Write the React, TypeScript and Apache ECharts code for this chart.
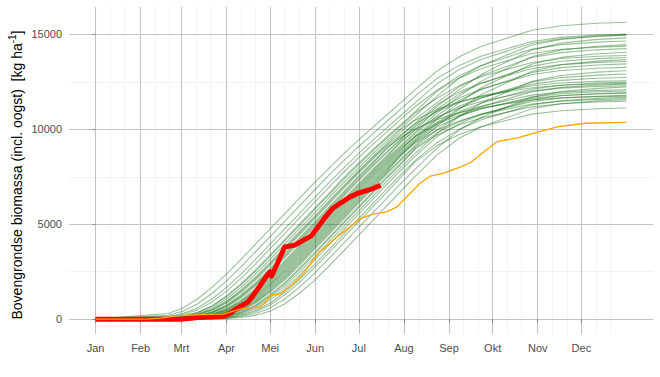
import React, { useEffect, useRef } from 'react';
import * as echarts from 'echarts';

// Day of year (0 = 1 Jan) at which the ensemble runs are sampled
const days = [0, 50, 60, 70, 80, 90, 100, 110, 120, 130, 140, 150, 160, 170, 180, 190, 200, 210, 220, 235, 250, 265, 280, 300, 320, 345, 365];

// Ensemble runs (green), above-ground biomass kg/ha
const greenRuns: number[][] = [
  [0, 300, 590, 1060, 1670, 2370, 3150, 3950, 4750, 5550, 6350, 7150, 7920, 8670, 9380, 10060, 10740, 11420, 12100, 13087, 13826, 14357, 14732, 15217, 15454, 15586, 15640],
  [0, 200, 420, 800, 1350, 2000, 2750, 3550, 4350, 5150, 5950, 6750, 7550, 8300, 9030, 9720, 10400, 11080, 11760, 12693, 13367, 13846, 14187, 14629, 14843, 14962, 15012],
  [0, 55, 140, 300, 590, 1060, 1670, 2370, 3150, 3950, 4750, 5550, 6350, 7150, 7920, 8670, 9380, 10060, 10740, 11760, 12687, 13354, 13828, 14441, 14739, 14906, 14974],
  [0, 140, 300, 590, 1060, 1670, 2370, 3150, 3950, 4750, 5550, 6350, 7150, 7920, 8670, 9380, 10060, 10740, 11420, 12407, 13146, 13677, 14052, 14537, 14774, 14906, 14960],
  [0, 18, 69, 164, 348, 674, 1176, 1802, 2522, 3310, 4110, 4910, 5710, 6510, 7310, 8072, 8814, 9516, 10196, 11216, 12090, 12883, 13451, 14182, 14539, 14738, 14819],
  [0, 110, 240, 488, 904, 1478, 2148, 2910, 3710, 4510, 5310, 6110, 6910, 7698, 8448, 9170, 9856, 10536, 11216, 12070, 12819, 13353, 13733, 14224, 14462, 14595, 14650],
  [0, 4, 40, 110, 240, 488, 904, 1478, 2148, 2910, 3710, 4510, 5310, 6110, 6910, 7698, 8448, 9170, 9856, 10876, 11747, 12538, 13101, 13828, 14181, 14378, 14460],
  [0, 70, 160, 352, 696, 1222, 1852, 2590, 3390, 4190, 4990, 5790, 6590, 7402, 8152, 8890, 9584, 10264, 10944, 12024, 12708, 13195, 13543, 13992, 14210, 14331, 14381],
  [0, 40, 110, 240, 488, 904, 1478, 2148, 2910, 3710, 4510, 5310, 6110, 6910, 7698, 8448, 9170, 9856, 10536, 11416, 12239, 12824, 13240, 13779, 14041, 14187, 14248],
  [0, 0, 18, 69, 164, 348, 674, 1176, 1802, 2522, 3310, 4110, 4910, 5710, 6510, 7310, 8072, 8814, 9516, 10536, 11403, 12177, 12729, 13440, 13787, 13981, 14060],
  [0, 69, 164, 348, 674, 1176, 1802, 2522, 3310, 4110, 4910, 5710, 6510, 7310, 8072, 8814, 9516, 10196, 10876, 11650, 12302, 12765, 13095, 13521, 13729, 13845, 13892],
  [0, 6, 48, 128, 276, 548, 1002, 1604, 2294, 3070, 3870, 4670, 5470, 6270, 7070, 7844, 8598, 9312, 9992, 11067, 11855, 12415, 12815, 13329, 13582, 13721, 13779],
  [0, 0, 4, 40, 110, 240, 488, 904, 1478, 2148, 2910, 3710, 4510, 5310, 6110, 6910, 7698, 8448, 9170, 10196, 11057, 11819, 12361, 13062, 13402, 13593, 13671],
  [0, 25, 80, 180, 386, 748, 1286, 1926, 2670, 3470, 4270, 5070, 5870, 6670, 7476, 8226, 8960, 9652, 10332, 11315, 11971, 12438, 12767, 13199, 13407, 13524, 13572],
  [0, 2, 35, 100, 220, 454, 852, 1414, 2074, 2830, 3630, 4430, 5230, 6030, 6830, 7624, 8374, 9100, 9788, 10727, 11518, 12081, 12481, 12997, 13251, 13391, 13448],
  [0, 14, 62, 152, 324, 632, 1118, 1736, 2446, 3230, 4030, 4830, 5630, 6430, 7230, 7996, 8742, 9448, 10128, 10982, 11645, 12116, 12449, 12885, 13096, 13213, 13262],
  [0, 0, 0, 14, 62, 152, 324, 632, 1118, 1736, 2446, 3230, 4030, 4830, 5630, 6430, 7230, 7996, 8742, 9788, 10678, 11379, 11878, 12523, 12836, 13011, 13083],
  [0, 0, 14, 62, 152, 324, 632, 1118, 1736, 2446, 3230, 4030, 4830, 5630, 6430, 7230, 7996, 8742, 9448, 10366, 11103, 11631, 12005, 12489, 12725, 12856, 12910],
  [0, 0, 25, 80, 180, 386, 748, 1286, 1926, 2670, 3470, 4270, 5070, 5870, 6670, 7476, 8226, 8960, 9652, 10593, 11215, 11657, 11972, 12379, 12577, 12688, 12733],
  [0, 35, 100, 220, 454, 852, 1414, 2074, 2830, 3630, 4430, 5230, 6030, 6830, 7624, 8374, 9100, 9716, 10295, 10951, 11418, 11747, 11986, 12292, 12440, 12523, 12557],
  [0, 0, 10, 55, 140, 300, 590, 1060, 1670, 2370, 3150, 3950, 4750, 5550, 6350, 7150, 7920, 8670, 9380, 10278, 10918, 11374, 11699, 12118, 12322, 12436, 12483],
  [0, 41, 116, 252, 506, 944, 1538, 2218, 2990, 3790, 4590, 5390, 6190, 6990, 7768, 8526, 9244, 9998, 10491, 11050, 11448, 11730, 11932, 12193, 12319, 12390, 12419],
  [0, 0, 2, 35, 100, 220, 454, 852, 1414, 2074, 2830, 3630, 4430, 5230, 6030, 6830, 7624, 8374, 9100, 9992, 10686, 11180, 11532, 11986, 12207, 12330, 12381],
  [0, 2, 41, 116, 252, 506, 944, 1538, 2218, 2990, 3790, 4590, 5390, 6190, 6990, 7768, 8526, 9379, 9971, 10643, 11120, 11460, 11702, 12015, 12167, 12252, 12287],
  [0, 0, 0, 0, 10, 55, 140, 300, 590, 1060, 1670, 2370, 3150, 3950, 4750, 5550, 6350, 7150, 7920, 9030, 9960, 10620, 11090, 11697, 11992, 12157, 12225],
  [0, 0, 20, 70, 160, 352, 696, 1222, 1852, 2590, 3390, 4190, 4990, 5790, 6590, 7402, 8152, 8890, 9660, 10364, 10864, 11220, 11472, 11801, 11961, 12050, 12086],
  [0, 0, 6, 48, 128, 276, 548, 1002, 1604, 2294, 3070, 3870, 4670, 5470, 6270, 7070, 7844, 8598, 9360, 10130, 10678, 11067, 11344, 11703, 11878, 11975, 12015],
  [0, 0, 0, 6, 48, 128, 276, 548, 1002, 1604, 2294, 3070, 3870, 4670, 5470, 6270, 7070, 7844, 8598, 9629, 10298, 10774, 11113, 11551, 11764, 11883, 11932],
  [0, 0, 30, 90, 200, 420, 800, 1350, 2000, 2750, 3550, 4350, 5150, 5950, 6750, 7550, 8300, 9028, 9620, 10280, 10750, 11083, 11322, 11630, 11779, 11863, 11897],
  [0, 0, 0, 25, 80, 180, 386, 748, 1286, 1926, 2670, 3470, 4270, 5070, 5870, 6670, 7476, 8226, 9021, 9827, 10396, 10801, 11089, 11461, 11642, 11743, 11785],
  [0, 20, 70, 160, 352, 696, 1222, 1852, 2590, 3390, 4190, 4990, 5790, 6590, 7402, 8152, 9017, 9582, 10024, 10524, 10880, 11132, 11314, 11548, 11661, 11724, 11750],
  [0, 0, 0, 2, 35, 100, 220, 454, 852, 1414, 2074, 2830, 3630, 4430, 5230, 6030, 6830, 7624, 8374, 9308, 9997, 10488, 10838, 11289, 11508, 11631, 11681],
  [0, 0, 2, 41, 116, 252, 506, 944, 1538, 2218, 2990, 3790, 4590, 5390, 6190, 6990, 7768, 8669, 9291, 9963, 10440, 10780, 11022, 11335, 11487, 11572, 11607],
  [0, 0, 0, 0, 0, 30, 90, 200, 420, 800, 1350, 2000, 2750, 3550, 4350, 5150, 5950, 6750, 7550, 8669, 9529, 10120, 10540, 11085, 11349, 11497, 11557],
  [0, 0, 0, 20, 70, 160, 352, 696, 1222, 1852, 2590, 3390, 4190, 4990, 5790, 6590, 7402, 8152, 8984, 9712, 10224, 10589, 10847, 11184, 11348, 11439, 11476],
  [0, 0, 0, 0, 25, 80, 180, 386, 748, 1286, 1926, 2670, 3470, 4270, 5070, 5870, 6670, 7476, 8296, 9155, 9727, 10134, 10426, 10800, 10981, 11083, 11124],
];

// Reference run (orange)
const orangeDays = [0, 35, 45, 56, 72, 88, 93, 99, 104, 113, 117, 120, 127, 136, 143, 150, 154, 159, 166, 175, 182, 190, 200, 207, 214, 223, 230, 239, 251, 258, 266, 276, 290, 301, 318, 337, 365];
const orangeValues = [0, 0, 50, 170, 240, 260, 380, 520, 580, 630, 900, 1250, 1330, 1880, 2400, 3150, 3550, 3850, 4330, 4860, 5300, 5520, 5650, 5900, 6450, 7150, 7530, 7680, 8020, 8250, 8750, 9350, 9550, 9790, 10140, 10320, 10370];

// Current season (red)
const redDays = [0, 58, 66, 74, 88, 92, 96, 105, 111, 118, 120, 121, 125, 130, 137, 143, 148, 153, 158, 163, 168, 175, 180, 189, 196];
const redValues = [0, 0, 40, 120, 150, 280, 510, 910, 1530, 2320, 2490, 2260, 2930, 3800, 3900, 4160, 4370, 4860, 5380, 5830, 6090, 6440, 6620, 6830, 7050];

// Axes
const monthStarts = [0, 31, 59, 90, 120, 151, 181, 212, 243, 273, 304, 334];
const monthLabels = ['Jan', 'Feb', 'Mrt', 'Apr', 'Mei', 'Jun', 'Jul', 'Aug', 'Sep', 'Okt', 'Nov', 'Dec'];
const minorDays = [10, 20, 41, 51, 69, 79, 100, 110, 130, 140, 161, 171, 191, 201, 222, 232, 253, 263, 283, 293, 314, 324, 344, 354];
const yMajor = [0, 5000, 10000, 15000];
const yMinor = [2500, 7500, 12500];

const FONT = "'Liberation Sans', Arial, sans-serif";

export default function App() {
  const ref = useRef<HTMLDivElement>(null);

  useEffect(() => {
    if (!ref.current) return;
    const chart = echarts.init(ref.current, null, { renderer: 'svg' });

    const majorStyle = { color: '#c4c4c4', width: 1.1, type: 'solid' as const };
    const minorStyle = { color: '#f3f3f3', width: 1, type: 'solid' as const };

    const gridMarks = [
      ...yMinor.map((v) => ({ yAxis: v, lineStyle: minorStyle })),
      ...minorDays.map((d) => ({ xAxis: d, lineStyle: minorStyle })),
      ...yMajor.map((v) => ({ yAxis: v, lineStyle: majorStyle })),
      ...monthStarts.map((d) => ({ xAxis: d, lineStyle: majorStyle })),
    ];

    const greenSeries = greenRuns.map((run, k) => ({
      type: 'line',
      name: 'run' + k,
      data: days.map((d, i) => [d, run[i]]),
      showSymbol: false,
      symbol: 'none',
      silent: true,
      z: 3,
      lineStyle: { color: 'rgba(0,100,0,0.4)', width: 1.1 },
      emphasis: { disabled: true },
    }));

    const option: any = {
      animation: false,
      backgroundColor: '#ffffff',
      grid: { left: 69, right: 7, top: 7, bottom: 43, containLabel: false },
      xAxis: {
        type: 'value',
        min: -18.25,
        max: 383.25,
        axisLine: { show: false },
        axisTick: { show: true, customValues: monthStarts, length: 4, lineStyle: { color: '#8a8a8a', width: 1 } },
        axisLabel: {
          show: true,
          customValues: monthStarts,
          formatter: (v: number) => monthLabels[monthStarts.indexOf(Math.round(v))] ?? '',
          color: '#4d4d4d',
          fontSize: 11,
          fontFamily: FONT,
          margin: 8,
        },
        splitLine: { show: false },
      },
      yAxis: {
        type: 'value',
        min: -783,
        max: 16443,
        axisLine: { show: false },
        axisTick: { show: true, customValues: yMajor, length: 3, lineStyle: { color: '#8a8a8a', width: 1 } },
        axisLabel: {
          show: true,
          customValues: yMajor,
          formatter: (v: number) => String(Math.round(v)),
          color: '#4d4d4d',
          fontSize: 11,
          fontFamily: FONT,
          margin: 7,
        },
        splitLine: { show: false },
      },
      graphic: [
        {
          type: 'text',
          x: 17,
          y: 175,
          rotation: Math.PI / 2,
          style: {
            text: '{a|Bovengrondse biomassa (incl. oogst)  [kg ha}{b|-1}{a|]}',
            align: 'center',
            verticalAlign: 'middle',
            rich: {
              a: { fontSize: 14, fontFamily: FONT, fill: '#000000', lineHeight: 20 },
              b: { fontSize: 10, fontFamily: FONT, fill: '#000000', verticalAlign: 'top', lineHeight: 12 },
            },
          },
        },
      ],
      series: [
        {
          type: 'line',
          name: 'grid',
          data: [[0, 0]],
          showSymbol: false,
          symbol: 'none',
          silent: true,
          z: 1,
          lineStyle: { opacity: 0 },
          markLine: {
            silent: true,
            z: 0,
            animation: false,
            symbol: ['none', 'none'],
            label: { show: false },
            emphasis: { disabled: true },
            data: gridMarks,
          },
        },
        ...greenSeries,
        {
          type: 'line',
          name: 'red',
          data: redDays.map((d, i) => [d, redValues[i]]),
          showSymbol: false,
          symbol: 'none',
          silent: true,
          z: 4,
          lineStyle: { color: '#ff0000', width: 5, join: 'round' },
          emphasis: { disabled: true },
        },
        {
          type: 'line',
          name: 'orange',
          data: orangeDays.map((d, i) => [d, orangeValues[i]]),
          showSymbol: false,
          symbol: 'none',
          silent: true,
          z: 5,
          lineStyle: { color: '#ffa500', width: 1.3 },
          emphasis: { disabled: true },
        },
      ],
    };

    chart.setOption(option);
    return () => chart.dispose();
  }, []);

  return (
    <div
      ref={ref}
      style={{ position: 'fixed', left: 0, top: 0, width: 660, height: 377, background: '#ffffff' }}
    />
  );
}
